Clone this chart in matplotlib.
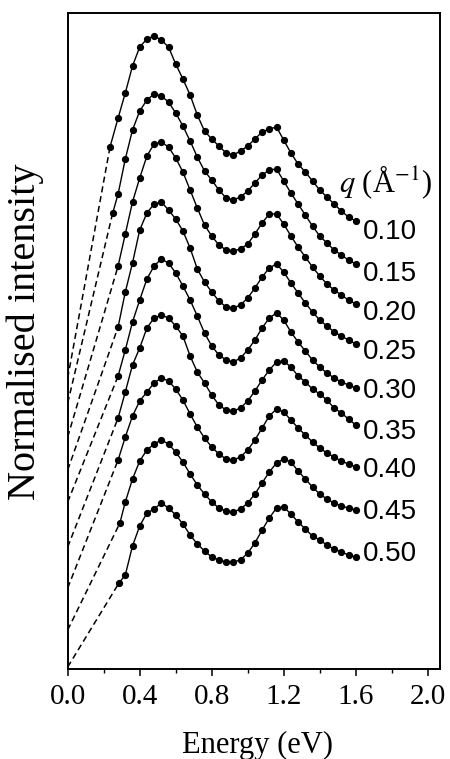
import numpy as np
import matplotlib.pyplot as plt
from matplotlib.ticker import MultipleLocator

# Valores (intensidad en unidades arbitrarias)

energy = [0.28, 0.32, 0.36, 0.40, 0.44, 0.48, 0.52, 0.56, 0.60, 0.64,
          0.68, 0.72, 0.76, 0.80, 0.84, 0.88, 0.92, 0.96, 1.00, 1.04,
          1.08, 1.12, 1.16, 1.20, 1.24, 1.28, 1.32, 1.36, 1.40, 1.44,
          1.48, 1.52, 1.56, 1.60]

q_labels = ['0.10', '0.15', '0.20', '0.25', '0.30', '0.35', '0.40', '0.45', '0.50']

int_010 = [551, 576, 603, 622, 630, 633, 629, 622, 605, 590,
           574, 554, 538, 530, 523, 516, 514, 518, 523, 530,
           537, 540, 542, 529, 516, 505, 497, 488, 479, 472,
           465, 458, 452, 448]
int_015 = [475, 510, 539, 558, 569, 575, 573, 567, 556, 543,
           528, 512, 498, 489, 479, 471, 469, 472, 478, 486,
           494, 499, 500, 488, 476, 465, 454, 443, 433, 426,
           419, 414, 409, 405]
int_020 = [403, 435, 467, 491, 513, 525, 527, 522, 511, 497,
           479, 461, 444, 433, 424, 419, 418, 420, 425, 435,
           446, 455, 455, 445, 433, 422, 412, 402, 393, 385,
           379, 374, 369, 365]
int_025 = [342, 377, 406, 439, 456, 465, 467, 459, 450, 438,
           421, 400, 387, 377, 368, 362, 361, 364, 371, 381,
           392, 401, 405, 397, 386, 376, 366, 357, 349, 343,
           337, 333, 329, 325]
int_030 = [293, 319, 347, 369, 390, 403, 410, 406, 396, 383,
           369, 353, 336, 323, 314, 309, 307, 311, 319, 329,
           341, 351, 356, 349, 337, 327, 318, 309, 302, 296,
           291, 287, 284, 281]
int_035 = [251, 277, 304, 321, 341, 351, 354, 351, 343, 333,
           313, 297, 286, 274, 264, 259, 258, 261, 268, 278,
           289, 299, 307, 308, 302, 293, 287, 280, 275, 269,
           261, 256, 250, 244]
int_040 = [209, 232, 253, 268, 277, 286, 291, 288, 280, 269,
           255, 242, 231, 222, 215, 210, 209, 212, 219, 229,
           241, 253, 260, 257, 249, 241, 234, 227, 221, 216,
           212, 208, 205, 202]
int_045 = [None, 167, 190, 208, 219, 225, 229, 225, 217, 207,
           195, 184, 175, 167, 161, 158, 157, 160, 166, 175,
           186, 197, 206, 210, 207, 198, 190, 182, 175, 170,
           166, 163, 161, 159]
int_050 = [None, 94, 123, 143, 156, 160, 166, 161, 154, 145,
           134, 125, 118, 112, 109, 107, 107, 109, 116, 126,
           139, 151, 161, 162, 155, 147, 140, 133, 129, 124,
           120, 117, 114, 112]

curvas = [int_010, int_015, int_020, int_025, int_030, int_035, int_040, int_045, int_050]

# primer punto medido de cada curva (si cae antes de la malla común)
first_E = [0.235, 0.25, None, None, None, None, None, 0.29, 0.285]
first_I = [522, 456, None, None, None, None, None, 146, 86]

# extrapolación hacia E = 0 (línea discontinua)
zero_I = [291, 266, 232, 199, 167, 122, 81, 39, 2]

# altura de las etiquetas de q a la derecha
label_I = [437, 395, 356, 317, 278, 237, 199, 157, 115]

plt.rcParams['mathtext.fontset'] = 'stix'
serif = ['Liberation Serif', 'DejaVu Serif']

fig = plt.figure(figsize=(4.5, 7.59), dpi=100)
ax = fig.add_axes([67.7 / 450, 90 / 759, 372.6 / 450, 656 / 759])

for k, vals in enumerate(curvas):
    e = [x for x, v in zip(energy, vals) if v is not None]
    y = [v for v in vals if v is not None]
    if first_E[k] is not None:
        e = [first_E[k]] + e
        y = [first_I[k]] + y
    ax.plot([0, e[0]], [zero_I[k], y[0]], color='k', lw=1.1, dashes=(4, 2.5))
    ax.plot(e, y, '-', color='k', lw=1.0, marker='o', ms=4.2, mec='k', mfc='k')
    ax.text(1.64, label_I[k], q_labels[k], fontsize=20, va='center', ha='left',
            family=['Liberation Sans', 'DejaVu Sans'])

ax.text(0.852, 0.742, r'$q$ (Å$^{-1}$)', transform=ax.transAxes, fontsize=22,
        ha='center', va='center', family=serif)

ax.set_xlim(0, 2.07)
ax.set_ylim(0, 656)
ax.xaxis.set_minor_locator(MultipleLocator(0.2))
ax.set_xticks([0.0, 0.4, 0.8, 1.2, 1.6, 2.0])
ax.set_xticklabels(['0.0', '0.4', '0.8', '1.2', '1.6', '2.0'], family=serif, fontsize=21)
ax.tick_params(axis='x', which='major', direction='out', length=5, width=1.1, pad=6)
ax.tick_params(axis='x', which='minor', direction='out', length=3, width=1.0)
ax.set_yticks([])
for s in ax.spines.values():
    s.set_linewidth(1.4)

fig.text(257 / 450, 1 - 745 / 759, 'Energy (eV)', ha='center', va='center',
         fontsize=22, family=serif)
fig.text(25 / 450, 1 - 332 / 759, 'Normalised intensity', ha='center', va='center',
         rotation=90, fontsize=29, family=serif)

fig.savefig('out.png', dpi=100)
